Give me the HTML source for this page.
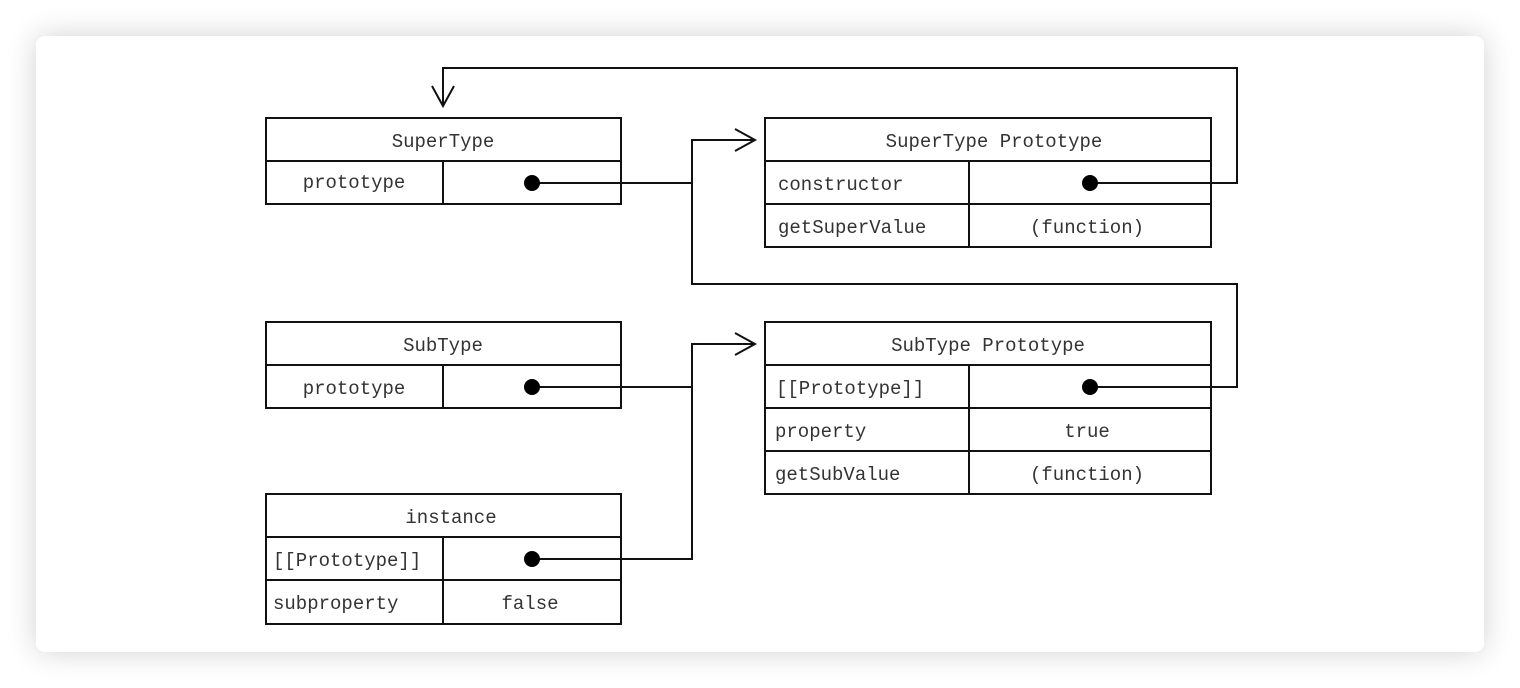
<!DOCTYPE html>
<html><head><style>
html,body{margin:0;padding:0;background:#fff;}
.card{position:absolute;left:36px;top:36px;width:1448px;height:616px;background:#fff;border-radius:9px;box-shadow:0 0 30px rgba(0,0,0,0.18);}
svg{position:absolute;left:0;top:0;}
text{font-family:"Liberation Mono",monospace;font-size:19px;fill:#333;}
</style></head><body>
<div class="card"></div>
<svg width="1520" height="688" viewBox="0 0 1520 688">
<g fill="none" stroke="#111" stroke-width="2">
<!-- SuperType -->
<rect x="266" y="118" width="355" height="86"/>
<line x1="266" y1="161" x2="621" y2="161"/><line x1="443" y1="161" x2="443" y2="204"/>
<!-- SuperType Prototype -->
<rect x="765" y="118" width="446" height="129"/>
<line x1="765" y1="161" x2="1211" y2="161"/><line x1="765" y1="204" x2="1211" y2="204"/>
<line x1="969" y1="161" x2="969" y2="247"/>
<!-- SubType -->
<rect x="266" y="322" width="355" height="86"/>
<line x1="266" y1="365" x2="621" y2="365"/><line x1="443" y1="365" x2="443" y2="408"/>
<!-- SubType Prototype -->
<rect x="765" y="322" width="446" height="172"/>
<line x1="765" y1="365" x2="1211" y2="365"/><line x1="765" y1="408" x2="1211" y2="408"/><line x1="765" y1="451" x2="1211" y2="451"/>
<line x1="969" y1="365" x2="969" y2="494"/>
<!-- instance -->
<rect x="266" y="494" width="355" height="130"/>
<line x1="266" y1="537" x2="621" y2="537"/><line x1="266" y1="580" x2="621" y2="580"/>
<line x1="443" y1="537" x2="443" y2="624"/>
<!-- connectors -->
<polyline points="532,183 692,183"/>
<polyline points="755,140 692,140 692,284 1237,284 1237,387 1090,387"/>
<polyline points="1090,183 1237,183 1237,68 443,68 443,106"/>
<polyline points="532,387 692,387"/>
<polyline points="755,344 692,344 692,559 532,559"/>
<polyline points="735,129 755,140 735,151"/>
<polyline points="735,333 755,344 735,355"/>
<polyline points="432,86 443,106 454,86"/>
</g>
<g fill="#000">
<circle cx="532" cy="183" r="8"/><circle cx="1090" cy="183" r="8"/>
<circle cx="532" cy="387" r="8"/><circle cx="1090" cy="387" r="8"/>
<circle cx="532" cy="559" r="8"/>
</g>
<text x="443" y="147" text-anchor="middle">SuperType</text>
<text x="354" y="188" text-anchor="middle">prototype</text>
<text x="994" y="147" text-anchor="middle">SuperType Prototype</text>
<text x="778" y="190">constructor</text>
<text x="778" y="233">getSuperValue</text>
<text x="1087" y="233" text-anchor="middle">(function)</text>
<text x="443" y="351" text-anchor="middle">SubType</text>
<text x="354" y="394" text-anchor="middle">prototype</text>
<text x="988" y="351" text-anchor="middle">SubType Prototype</text>
<text x="776" y="394">[[Prototype]]</text>
<text x="775" y="437">property</text>
<text x="1087" y="437" text-anchor="middle">true</text>
<text x="775" y="480">getSubValue</text>
<text x="1087" y="480" text-anchor="middle">(function)</text>
<text x="451" y="523" text-anchor="middle">instance</text>
<text x="273" y="566">[[Prototype]]</text>
<text x="273" y="609">subproperty</text>
<text x="530" y="609" text-anchor="middle">false</text>
</svg>
</body></html>
